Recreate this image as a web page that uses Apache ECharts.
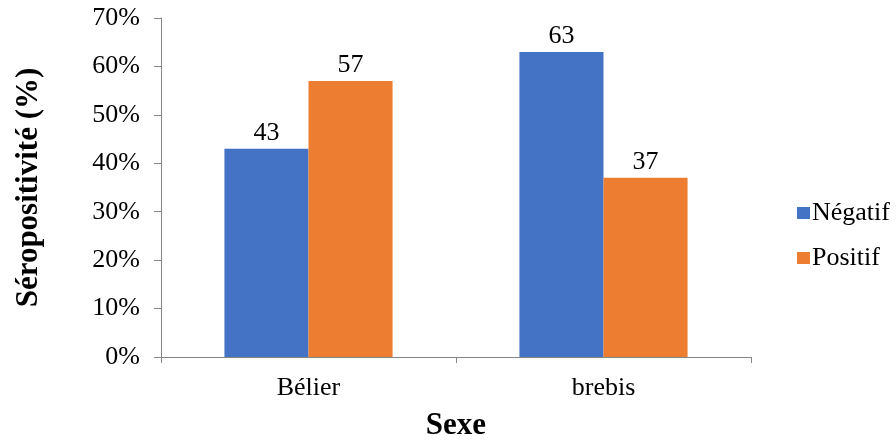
<!DOCTYPE html>
<html>
<head>
<meta charset="utf-8">
<style>
    html, body { margin: 0; padding: 0; background: #fff; }
    #main { width: 896px; height: 441px; }
</style>
</head>
<body>
<div id="main"></div>
<script src="https://cdn.jsdelivr.net/npm/echarts@6/dist/echarts.min.js"></script>
<script>
    var categories = ['Bélier', 'brebis'];
    var negatif = [43, 63];
    var positif = [57, 37];
    var yTicks = [0, 10, 20, 30, 40, 50, 60, 70];

    var font = '"Liberation Serif", "Times New Roman", serif';
    var axisColor = '#868686';

    var chart = echarts.init(document.getElementById('main'));
    var option = {
        backgroundColor: '#fff',
        animation: false,
        textStyle: { fontFamily: font, color: '#000' },
        grid: { left: 161, right: 145, top: 18, bottom: 84, outerBoundsMode: 'none', containLabel: false },
        legend: {
            orient: 'vertical',
            left: 792,
            top: 195,
            itemWidth: 13,
            itemHeight: 12,
            itemGap: 19,
            icon: 'rect',
            textStyle: { fontFamily: font, fontSize: 26, color: '#000', padding: [0, 0, 0, -3] },
            data: ['Négatif', 'Positif']
        },
        xAxis: {
            type: 'category',
            data: categories,
            name: 'Sexe',
            nameLocation: 'middle',
            nameGap: 53,
            nameTextStyle: { fontFamily: font, fontSize: 31, fontWeight: 'bold', color: '#000' },
            axisLine: { lineStyle: { color: axisColor, width: 1 } },
            axisTick: { show: true, length: 6, lineStyle: { color: axisColor } },
            axisLabel: { fontFamily: font, fontSize: 26, color: '#000', margin: 18 }
        },
        yAxis: {
            type: 'value',
            min: yTicks[0],
            max: yTicks[yTicks.length - 1],
            interval: 10,
            name: 'Séropositivité (%)',
            nameLocation: 'middle',
            nameGap: 117,
            nameTextStyle: { fontFamily: font, fontSize: 31, fontWeight: 'bold', color: '#000' },
            axisLine: { show: true, lineStyle: { color: axisColor, width: 1 } },
            axisTick: { show: true, length: 7, lineStyle: { color: axisColor } },
            splitLine: { show: false },
            axisLabel: {
                fontFamily: font, fontSize: 26, color: '#000', margin: 21,
                formatter: function (v) { return v + '%'; }
            }
        },
        series: [
            {
                name: 'Négatif',
                type: 'bar',
                data: negatif,
                barGap: '0%',
                barCategoryGap: '43%',
                itemStyle: { color: '#4472C4' },
                label: { show: true, position: 'top', distance: 3, fontFamily: font, fontSize: 26, color: '#000' }
            },
            {
                name: 'Positif',
                type: 'bar',
                data: positif,
                itemStyle: { color: '#ED7D31' },
                label: { show: true, position: 'top', distance: 3, fontFamily: font, fontSize: 26, color: '#000' }
            }
        ]
    };
    chart.setOption(option);
</script>
</body>
</html>
